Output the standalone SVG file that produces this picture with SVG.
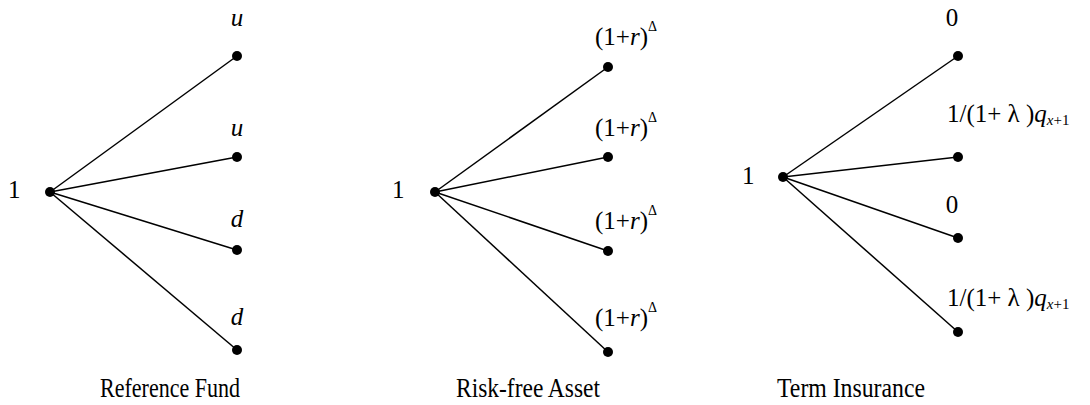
<svg xmlns="http://www.w3.org/2000/svg" width="1090" height="405" viewBox="0 0 1090 405">
<style>
text{font-family:"Liberation Serif","Times New Roman",serif;fill:#000}
.lbl{font-size:25px}
.it{font-style:italic}
.ttl{font-size:27px}
.sup{font-size:14px}
.sub{font-size:15px}
line{stroke:#000;stroke-width:1.5}
circle{fill:#000}
</style>
<rect width="1090" height="405" fill="#fff"/>
<g id="connectors">
<line x1="50" y1="192" x2="237" y2="56"/>
<line x1="50" y1="192" x2="237" y2="157"/>
<line x1="50" y1="192" x2="237" y2="250"/>
<line x1="50" y1="192" x2="237" y2="350"/>
<line x1="435" y1="192" x2="608" y2="67"/>
<line x1="435" y1="192" x2="608" y2="157"/>
<line x1="435" y1="192" x2="608" y2="251"/>
<line x1="435" y1="192" x2="608" y2="352"/>
<line x1="783" y1="177" x2="958" y2="56"/>
<line x1="783" y1="177" x2="958" y2="157"/>
<line x1="783" y1="177" x2="958" y2="238"/>
<line x1="783" y1="177" x2="958" y2="332"/>
</g>
<g id="fund-root"><circle cx="50" cy="192" r="5"/><text class="lbl" x="8" y="198">1</text></g>
<g id="fund-u1"><circle cx="237" cy="56" r="5"/><text class="lbl it" x="237" y="26" text-anchor="middle">u</text></g>
<g id="fund-u2"><circle cx="237" cy="157" r="5"/><text class="lbl it" x="237" y="136" text-anchor="middle">u</text></g>
<g id="fund-d1"><circle cx="237" cy="250" r="5"/><text class="lbl it" x="237" y="227" text-anchor="middle">d</text></g>
<g id="fund-d2"><circle cx="237" cy="350" r="5"/><text class="lbl it" x="237" y="325" text-anchor="middle">d</text></g>
<g id="fund-title"><text class="ttl" x="100" y="397" textLength="140" lengthAdjust="spacingAndGlyphs">Reference Fund</text></g>

<g id="rf-root"><circle cx="435" cy="192" r="5"/><text class="lbl" x="392" y="198">1</text></g>
<g id="rf-1"><circle cx="608" cy="67" r="5"/><text class="lbl" x="595" y="45">(1+<tspan class="it">r</tspan>)<tspan class="sup" dy="-14">Δ</tspan></text></g>
<g id="rf-2"><circle cx="608" cy="157" r="5"/><text class="lbl" x="595" y="136">(1+<tspan class="it">r</tspan>)<tspan class="sup" dy="-14">Δ</tspan></text></g>
<g id="rf-3"><circle cx="608" cy="251" r="5"/><text class="lbl" x="595" y="229">(1+<tspan class="it">r</tspan>)<tspan class="sup" dy="-14">Δ</tspan></text></g>
<g id="rf-4"><circle cx="608" cy="352" r="5"/><text class="lbl" x="595" y="326">(1+<tspan class="it">r</tspan>)<tspan class="sup" dy="-14">Δ</tspan></text></g>
<g id="rf-title"><text class="ttl" x="456" y="397" textLength="144" lengthAdjust="spacingAndGlyphs">Risk-free Asset</text></g>

<g id="ti-root"><circle cx="783" cy="177" r="5"/><text class="lbl" x="742" y="184">1</text></g>
<g id="ti-1"><circle cx="958" cy="56" r="5"/><text class="lbl" x="952" y="26" text-anchor="middle">0</text></g>
<g id="ti-2"><circle cx="958" cy="157" r="5"/><text class="lbl" x="947" y="122">1/(1+ λ )<tspan class="it">q</tspan><tspan class="sub it" dy="3">x</tspan><tspan class="sub">+1</tspan></text></g>
<g id="ti-3"><circle cx="958" cy="238" r="5"/><text class="lbl" x="952" y="213" text-anchor="middle">0</text></g>
<g id="ti-4"><circle cx="958" cy="332" r="5"/><text class="lbl" x="947" y="306">1/(1+ λ )<tspan class="it">q</tspan><tspan class="sub it" dy="3">x</tspan><tspan class="sub">+1</tspan></text></g>
<g id="ti-title"><text class="ttl" x="777" y="397" textLength="148" lengthAdjust="spacingAndGlyphs">Term Insurance</text></g>
</svg>
